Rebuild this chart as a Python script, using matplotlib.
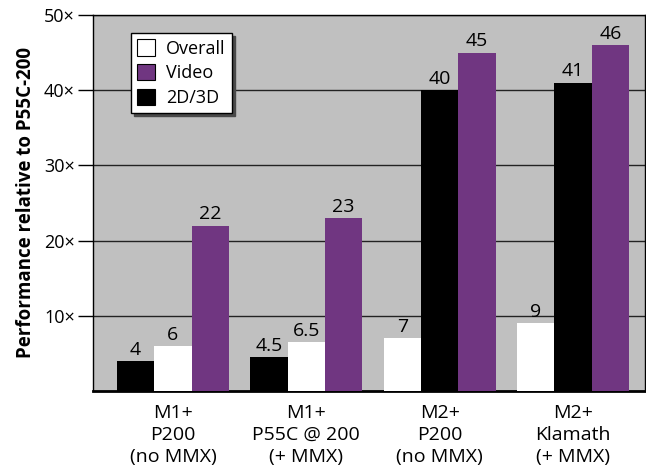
import matplotlib
matplotlib.use('Agg')
import matplotlib.pyplot as plt
import numpy as np

# chart data
groups = ['M1+\nP200\n(no MMX)', 'M1+\nP55C @ 200\n(+ MMX)',
          'M2+\nP200\n(no MMX)', 'M2+\nKlamath\n(+ MMX)']
overall = [6, 6.5, 7, 9]
video = [22, 23, 45, 46]
gfx = [4, 4.5, 40, 41]
overall_labels = ['6', '6.5', '7', '9']
video_labels = ['22', '23', '45', '46']
gfx_labels = ['4', '4.5', '40', '41']
# slot of each series inside a group (-1 left, 0 middle, 1 right)
overall_slot = [0, 0, -1, -1]
gfx_slot = [-1, -1, 0, 0]
video_slot = [1, 1, 1, 1]
yticks = [10, 20, 30, 40, 50]

plt.rcParams['font.family'] = ['Open Sans', 'DejaVu Sans']

WHITE = '#ffffff'
PURPLE = '#703681'
BLACK = '#000000'
width = 0.28

fig = plt.figure(figsize=(6.46, 4.72), dpi=100)
ax = fig.add_axes([93 / 646, 1 - 391 / 472, 552 / 646, 376 / 472])
ax.set_facecolor('#c0c0c0')

x = np.arange(len(groups))
series = [(overall, overall_slot, overall_labels, WHITE, 'Overall'),
          (video, video_slot, video_labels, PURPLE, 'Video'),
          (gfx, gfx_slot, gfx_labels, BLACK, '2D/3D')]
handles = {}
for vals, slots, labs, col, name in series:
    pos = x + np.array(slots) * width
    bars = ax.bar(pos, vals, width, color=col, edgecolor='none', zorder=3, label=name)
    handles[name] = bars
    for p, v, t in zip(pos, vals, labs):
        ax.text(p, v + 0.3, t, ha='center', va='bottom', fontsize=14, zorder=4)

ax.set_xlim(-0.6, 3.54)
ax.set_ylim(0, 50)
ax.set_yticks(yticks)
ax.set_yticklabels(['{0}\u00d7'.format(t) for t in yticks], fontsize=13)
ax.yaxis.grid(True, color='#222222', linewidth=1, zorder=1)
ax.tick_params(axis='y', length=11, width=1, pad=2)
ax.set_xticks(x)
ax.set_xticklabels(groups, fontsize=14, linespacing=1.3)
ax.tick_params(axis='x', length=0, pad=9)
for s in ax.spines.values():
    s.set_color('black')
    s.set_linewidth(1)
ax.spines['bottom'].set_linewidth(2)

ax.set_ylabel('Performance relative to P55C-200', fontsize=13.5, fontweight='bold', labelpad=6)

leg = ax.legend([handles['Overall'], handles['Video'], handles['2D/3D']],
                ['Overall', 'Video', '2D/3D'],
                loc='upper left', bbox_to_anchor=(0.069, 0.952), fontsize=13,
                fancybox=False, edgecolor='black', framealpha=1,
                shadow={'color': '#4a4a4a', 'alpha': 1},
                handlelength=1.0, handleheight=1.0, handletextpad=0.6,
                labelspacing=0.35, borderpad=0.35, borderaxespad=0)
for h in leg.legend_handles:
    h.set_edgecolor('black')
    h.set_linewidth(0.8)
leg.get_frame().set_linewidth(1)
leg.set_zorder(5)

fig.savefig('out.png', dpi=100)
